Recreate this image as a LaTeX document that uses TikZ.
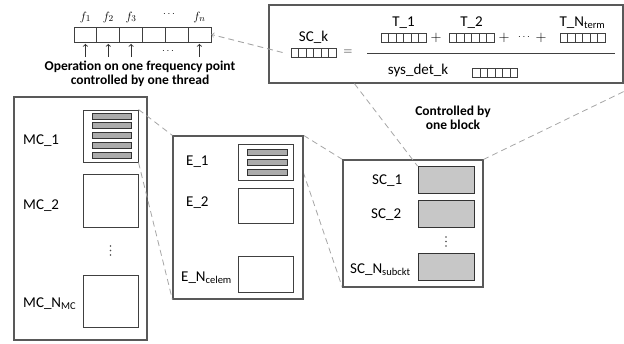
\documentclass[tikz,border=0pt]{standalone}
\usepackage{fontspec}
\setmainfont{Carlito}
\usetikzlibrary{positioning,backgrounds}

\begin{document}
\begin{tikzpicture}[x=1pt,y=-1pt,
  every node/.style={inner sep=0pt},
  txt/.style={font=\fontsize{15}{17}\selectfont},
  note/.style={font=\fontsize{13.5}{14}\bfseries\selectfont,align=center},
  box/.style={draw=black!65,line width=1.2pt,fill=white},
  sub/.style={draw=black!75,line width=1pt,fill=white,minimum width=55pt},
  bar/.style={draw=black!80,line width=0.8pt,fill=black!33,minimum height=6pt},
  sc/.style={draw=black!80,line width=1pt,fill=black!22,minimum width=56pt,minimum height=27pt},
  cells/.style={draw=black!75,line width=0.8pt,minimum width=6*#1,
    path picture={\foreach \i in {1,...,5}
      \draw[black!75,line width=0.8pt] ([xshift=\i*#1]path picture bounding box.north west)
        -- ([xshift=\i*#1]path picture bounding box.south west);}},
  zoomline/.style={draw=black!35,line width=0.8pt,dash pattern=on 6pt off 4pt},
  thread/.style={->,black!80,line width=0.9pt,shorten >=1.5pt}]
\useasboundingbox (0,0) rectangle (624,343);

% frequency points, one thread each
\node[cells=22.83,minimum height=15pt] (freq) at (142.5,34.5) {};
\foreach \i in {1,2,3}{
  \node[font=\fontsize{13}{15}\selectfont] (f_\i) at ({62.6+22.83*\i},17) {$f_{\i}$};
  \coordinate (t_\i) at ({62.6+22.83*\i},57);
  \draw[thread] (t_\i) -- (t_\i |- freq.south);
}
\node[font=\fontsize{13}{15}\selectfont] (f_n) at (199.4,17) {$f_n$};
\coordinate (t_n) at (199.4,57);
\draw[thread] (t_n) -- (t_n |- freq.south);
\node (dots_top) at (169,14) {$\cdots$};
\node (dots_bot) at (168,51) {$\cdots$};
\node[note] (thread) at (140,74) {Operation on one frequency point\\controlled by one thread};

% SC_k = (T_1 + T_2 + ... + T_Nterm) / sys_det_k
\node[box,minimum width=354pt,minimum height=78pt] (frac) at (446,44) {};
\node[cells=7.5,minimum height=9pt] (sck) at (313.5,52.5) {};
\node[txt,above=4pt of sck] (sck_lbl) {SC\_k};
\node[font=\fontsize{13}{15}\selectfont] (eq) at (348,52) {$=$};
\node[cells=7.5,minimum height=9pt] (term_1) at (403.5,37.5) {};
\node[cells=7.5,minimum height=9pt] (term_2) at (471.5,37.5) {};
\node[cells=7.5,minimum height=9pt] (term_n) at (582.5,37.5) {};
\node[txt,above=4pt of term_1] {T\_1};
\node[txt,above=4pt of term_2] {T\_2};
\node[txt,above=4pt of term_n] {T\_N\textsubscript{term}};
\foreach \x in {436,504,541}
  \node[font=\fontsize{14}{15}\selectfont] at (\x,38) {$+$};
\node[font=\fontsize{10}{12}\selectfont] at (524,37) {$\cdots$};
\draw[black!75,line width=0.9pt] (367,53) -- (615,53);
\node[txt] (det_lbl) at (418,70) {sys\_det\_k};
\node[cells=7.5,minimum height=9pt] (det) at (495,72.5) {};
\node[note] (block) at (453,118) {Controlled by\\one block};

% MC level
\node[box,minimum width=133pt,minimum height=243pt] (mc) at (80.5,218.5) {};
\node[sub,minimum height=52pt] (mc_1) at (110.5,136) {};
\foreach \k in {0,...,4}
  \node[bar,minimum width=39pt] at (111.5,{116+9.8*\k}) {};
\node[sub,minimum height=53pt] (mc_2) at (110.5,200.5) {};
\foreach \k in {0,1,2}
  \fill[black!70] (110.5,{246+4.5*\k}) circle (0.9);
\node[sub,minimum height=52pt] (mc_n) at (110.5,301) {};
\node[txt,anchor=base west] at (23,144.5) {MC\_1};
\node[txt,anchor=base west] at (23,209) {MC\_2};
\node[txt,anchor=base west] at (23,307) {MC\_N\textsubscript{MC}};

% element level
\node[box,minimum width=130pt,minimum height=163pt] (e) at (238,217.5) {};
\node[sub,minimum height=36pt] (e_1) at (265.5,162) {};
\foreach \k in {0,1,2}
  \node[bar,minimum width=40pt] at (267,{152+10*\k}) {};
\node[sub,minimum height=35pt] (e_2) at (265.5,205.5) {};
\node[sub,minimum height=36pt] (e_n) at (265.5,274) {};
\node[txt,anchor=base west] at (186,165) {E\_1};
\node[txt,anchor=base west] at (186,206) {E\_2};
\node[txt,anchor=base west] at (181,281) {E\_N\textsubscript{celem}};

% subcircuit level
\node[box,minimum width=140pt,minimum height=127pt] (sc) at (413,223.5) {};
\node[sc] (sc_1) at (446,180) {};
\node[sc] (sc_2) at (446,213.5) {};
\foreach \k in {0,1,2}
  \fill[black!70] (446,{237+4.5*\k}) circle (0.9);
\node[sc] (sc_n) at (446,266.5) {};
\node[txt,anchor=base west] at (372,184) {SC\_1};
\node[txt,anchor=base west] at (371,218) {SC\_2};
\node[txt,anchor=base west] at (350,273) {SC\_N\textsubscript{subckt}};

% zoom lines
\draw[zoomline] (mc_1.north east) -- (e.north west);
\draw[zoomline] (mc_1.south east) -- (e.south west);
\begin{scope}[on background layer]
\draw[zoomline] (e.north east) -- (sc.north west);
\draw[zoomline] (e_1.north east) -- (sc.south west);
\end{scope}
\draw[zoomline] ([xshift=86pt]frac.south west) -- (sc_1.north west);
\draw[zoomline] ([yshift=-8pt]frac.south east) -- (sc.north east);
\draw[zoomline,->,line width=0.9pt] ([xshift=-8pt]sck.west) -- (freq.east);
\end{tikzpicture}
\end{document}
